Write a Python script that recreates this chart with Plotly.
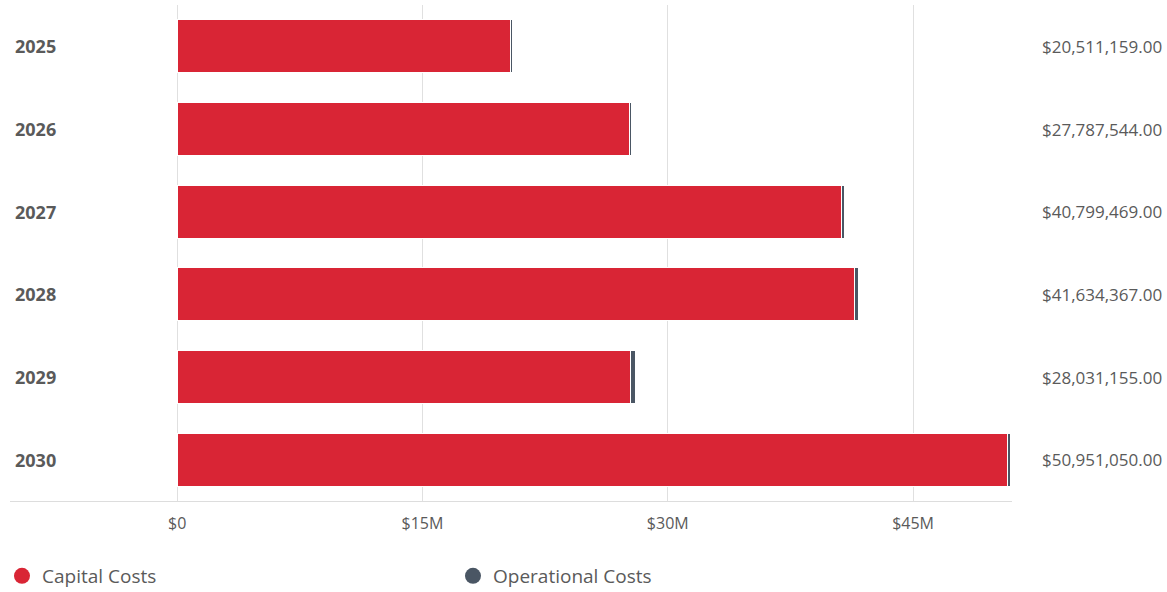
import plotly.graph_objects as go

years = ["2025", "2026", "2027", "2028", "2029", "2030"]
capital = [20390000, 27650000, 40650000, 41390000, 27730000, 50750000]
operational = [121159, 137544, 149469, 244367, 301155, 201050]
totals = [20511159.00, 27787544.00, 40799469.00, 41634367.00, 28031155.00, 50951050.00]
tick_vals = [0, 15e6, 30e6, 45e6]
tick_text = ["$0", "$15M", "$30M", "$45M"]

RED = "#D92535"
GRAY = "#4A5664"
TXT = "#5a5a5a"
FONT = "Open Sans"

fig = go.Figure()
fig.add_trace(go.Bar(y=years, x=capital, orientation="h", name="Capital Costs",
                     marker=dict(color=RED, line=dict(color="white", width=1)),
                     width=0.64, showlegend=False))
fig.add_trace(go.Bar(y=years, x=operational, orientation="h", name="Operational Costs",
                     marker=dict(color=GRAY, line=dict(color="white", width=1)),
                     width=0.64, showlegend=False))
for name, col in [("Capital Costs", RED), ("Operational Costs", GRAY)]:
    fig.add_trace(go.Scatter(x=[None], y=[None], mode="markers", name=name,
                             marker=dict(color=col, size=17, symbol="circle")))

for i, (y, t) in enumerate(zip(years, totals)):
    fig.add_annotation(x=0, xref="paper", y=i, yref="y", text=f"<b>{y}</b>",
                       xanchor="left", xshift=3, showarrow=False,
                       font=dict(family=FONT, size=18, color=TXT))
    fig.add_annotation(x=1.1517, xref="paper", y=i, yref="y", text=f"${t:,.2f}",
                       xanchor="right", showarrow=False,
                       font=dict(family=FONT, size=17, color=TXT))

fig.update_layout(
    barmode="stack",
    width=1167, height=592,
    margin=dict(l=10, r=155, t=5, b=91, autoexpand=False),
    plot_bgcolor="white", paper_bgcolor="white",
    font=dict(family=FONT, color=TXT),
    xaxis=dict(range=[-10.22e6, 51.05e6], tickvals=tick_vals, ticktext=tick_text,
               showgrid=True, gridcolor="#e0e0e0", gridwidth=1, zeroline=False,
               showline=True, linecolor="#dddddd", linewidth=1,
               tickfont=dict(family=FONT, size=16, color=TXT), ticklabelstandoff=8),
    yaxis=dict(type="category", categoryorder="array", categoryarray=years,
               range=[5.5, -0.5], autorange=False, showticklabels=False,
               showgrid=False, zeroline=False, showline=False),
    legend=dict(orientation="h", x=0.0017, xref="container", xanchor="left",
                y=0.027, yref="container", yanchor="middle",
                traceorder="normal", entrywidth=406, entrywidthmode="pixels",
                font=dict(family=FONT, size=19, color=TXT)),
)

fig.write_html("out.html")
